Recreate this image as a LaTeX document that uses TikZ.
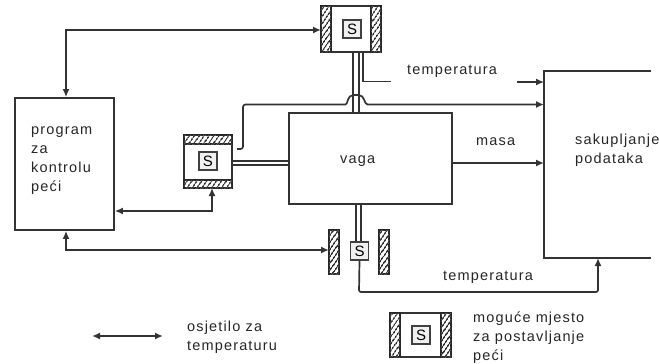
\documentclass[tikz,border=0pt]{standalone}
\usepackage{fontspec}
\setmainfont[LetterSpace=8]{Liberation Sans}
\usetikzlibrary{patterns,patterns.meta,arrows.meta}
\tikzset{
 line/.style={draw=black!80,line width=1.7pt},
 arr/.style={line,-{Latex[length=8pt,width=7pt]}},
 darr/.style={line,{Latex[length=8pt,width=7pt]}-{Latex[length=8pt,width=7pt]}},
 blockbox/.style={draw=black!80,line width=1.7pt,fill=white},
 hatchbox/.style={draw=black!85,line width=1.2pt,fill=white,postaction={pattern={Lines[angle=55,distance=4pt,line width=1.7pt]},pattern color=black!80}},
 sbox/.style={draw=black!75,line width=1.8pt,fill=black!6,minimum width=18pt,minimum height=18pt,inner sep=0pt,font=\fontsize{15}{15}\selectfont},
 lab/.style={font=\fontsize{14.5}{19}\selectfont,text=black!85,inner sep=0pt,align=left,anchor=west},
}
\begin{document}
\begin{tikzpicture}[x=1pt,y=-1pt]
\useasboundingbox (0,0) rectangle (659,364);
% blocks
\node[blockbox,minimum width=99pt,minimum height=132pt,inner sep=0pt] (prog) at (64.5,164) {};
\node[blockbox,minimum width=163pt,minimum height=91pt,inner sep=0pt] (vaga) at (370.5,158.5) {};
\coordinate (dTL) at (544,71); \coordinate (dTR) at (651,71);
\coordinate (dBL) at (544,258); \coordinate (dBR) at (651,258);
\draw[line] (dTR) -- (dTL) -- (dBL) -- (dBR);
% top furnace
\node[blockbox,minimum width=60pt,minimum height=46pt,inner sep=0pt] (ft) at (351,29) {};
\draw[hatchbox] (321,6) rectangle (331,52);
\draw[hatchbox] (371,6) rectangle (381,52);
\node[sbox] (st) at (352,29) {S};
% left furnace
\node[blockbox,minimum width=48pt,minimum height=53pt,inner sep=0pt] (fl) at (208,161.5) {};
\draw[hatchbox] (184,135) rectangle (232,144);
\draw[hatchbox] (184,180) rectangle (232,188);
\node[sbox] (sl) at (208,161) {S};
% bottom furnace
\draw[hatchbox] (329,230) rectangle (339,274);
\draw[hatchbox] (379,230) rectangle (389,274);
% tubes
\draw[line] (353,52) -- (353,113);
\draw[line] (359,52) -- (359,113);
\draw[line] (232,161) -- (289,161);
\draw[line] (232,165) -- (289,165);
\draw[line] (356,204) -- (356,243);
\draw[line] (361,204) -- (361,243);
\node[sbox,fill=black!6] (sb) at (359.5,251) {S};
% legend furnace
\node[blockbox,line width=1.2pt,minimum width=60pt,minimum height=44pt,inner sep=0pt] (fk) at (420,335) {};
\draw[hatchbox] (390,313) rectangle (400,357);
\draw[hatchbox] (441,313) rectangle (451,357);
\node[sbox] (sk) at (421,335) {S};
% sensor lines
\coordinate (t1) at (363,53); \coordinate (t2) at (391,81.5);
\draw[line,line width=1.2pt] (t1) -- (363,81.5) -- (t2);
\coordinate (t3) at (517,82);
\draw[arr,line width=1.2pt] (t3) -- (544,82);
\coordinate (l0) at (237,149);
\draw[arr,rounded corners=2.5pt] (l0) -- (243,149) -- (243,104.5) -- (343,104.5) .. controls (348,104.5) and (347,95) .. (356,95) .. controls (365,95) and (364,104.5) .. (370,104.5) -- (544,104.5);
\draw[arr] (vaga.east |- 0,163) -- (544,163);
\draw[darr] (prog.north -| 66,0) -- (66,30) -- (321,30);
\draw[darr] (prog.east |- 0,211) -- (212,211) -- (212,188);
\draw[darr] (prog.south -| 66,0) -- (66,250) -- (329,250);
\coordinate (bend) at (598,258);
\draw[arr,rounded corners=2pt] (sb.south) -- (359,292) -- (598,292) -- (bend);
% legend arrow
\coordinate (k1) at (92,336); \coordinate (k2) at (163,336);
\draw[darr] (k1) -- (k2);
% labels
\node[lab] at (31,161) {program\\za\\kontrolu\\peći};
\node[lab] at (340,161) {vaga};
\node[lab] at (407,71) {temperatura};
\node[lab] at (476,142) {masa};
\node[lab] at (575,150) {sakupljanje\\podataka};
\node[lab] at (443,277) {temperatura};
\node[lab] at (187,337) {osjetilo za\\temperaturu};
\node[lab] at (473,338) {moguće mjesto\\za postavljanje\\peći};
\end{tikzpicture}
\end{document}
